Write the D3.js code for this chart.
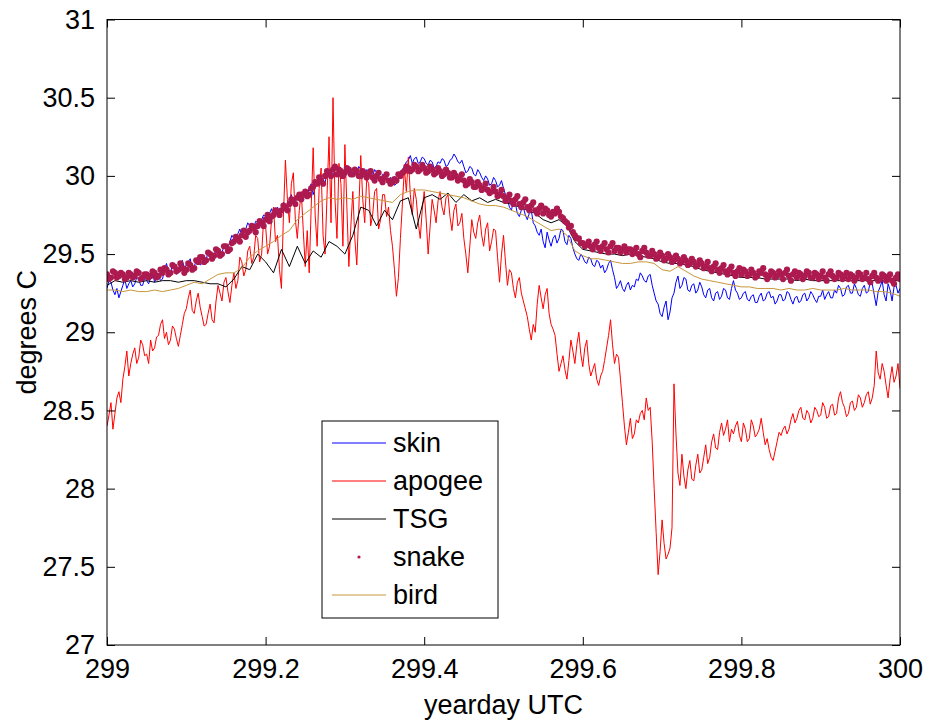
<!DOCTYPE html>
<html>
<head>
<meta charset="utf-8">
<script src="https://cdn.jsdelivr.net/npm/d3@7"></script>
<style>
  html, body { margin: 0; padding: 0; background: #fff; }
  svg text { font-family: "Liberation Sans", Arial, Helvetica, sans-serif; fill: #000; }
</style>
</head>
<body>
<svg id="chart" width="926" height="721"></svg>
<script>
// Sea surface temperature comparison, yearday 299–300 UTC.
// Each record is sampled on a regular yearday grid starting at 299.
const startDay = 299;

// skin radiometer temperature, every 0.0025 day
const skinStep = 0.0025;
const skin = [
  29.28,29.33,29.32,29.27,29.24,29.28,29.22,29.26,29.30,29.34,29.28,29.31,29.33,29.29,29.31,29.35,29.34,29.30,29.30,29.35,
  29.33,29.31,29.35,29.38,29.32,29.35,29.36,29.33,29.34,29.40,29.44,29.39,29.38,29.43,29.42,29.37,29.40,29.44,29.46,29.41,
  29.43,29.45,29.47,29.40,29.42,29.46,29.48,29.43,29.44,29.49,29.46,29.52,29.50,29.46,29.48,29.54,29.53,29.49,29.51,29.55,
  29.56,29.54,29.58,29.62,29.60,29.58,29.63,29.66,29.62,29.65,29.66,29.70,29.68,29.65,29.67,29.71,29.70,29.68,29.72,29.75,
  29.74,29.72,29.76,29.79,29.74,29.78,29.80,29.77,29.78,29.83,29.82,29.80,29.85,29.88,29.83,29.86,29.87,29.84,29.86,29.90,
  29.90,29.88,29.92,29.95,29.88,29.93,29.95,29.99,29.98,29.95,29.96,30.01,30.02,29.98,30.00,30.04,30.05,30.01,29.98,30.02,
  30.03,30.06,30.00,30.02,30.05,30.01,30.02,30.06,30.04,30.00,29.99,30.04,30.03,29.99,30.00,30.04,30.02,29.98,29.97,30.01,
  30.00,29.98,29.96,29.99,29.98,29.94,29.95,29.98,30.00,30.04,30.06,30.09,30.10,30.13,30.08,30.11,30.12,30.08,30.09,30.12,
  30.11,30.08,30.07,30.10,30.09,30.05,30.06,30.09,30.08,30.11,30.10,30.06,30.07,30.10,30.11,30.14,30.12,30.09,30.08,30.10,
  30.06,30.02,30.03,30.06,30.05,30.01,30.00,30.04,30.02,29.99,29.97,30.00,29.98,29.94,29.95,29.99,29.97,29.93,29.94,29.97,
  29.92,29.88,29.85,29.80,29.78,29.84,29.82,29.76,29.74,29.78,29.80,29.75,29.72,29.76,29.78,29.70,29.68,29.64,29.62,29.66,
  29.58,29.54,29.64,29.59,29.55,29.60,29.62,29.57,29.60,29.66,29.65,29.58,29.56,29.62,29.60,29.54,29.50,29.47,29.46,29.50,
  29.48,29.45,29.44,29.48,29.47,29.43,29.42,29.46,29.45,29.41,29.43,29.38,29.40,29.44,29.46,29.40,29.35,29.28,29.30,29.33,
  29.28,29.26,29.30,29.32,29.27,29.30,29.29,29.34,29.33,29.38,29.36,29.33,29.32,29.36,29.37,29.30,29.25,29.20,29.18,29.12,
  29.10,29.16,29.20,29.08,29.13,29.22,29.25,29.32,29.36,29.28,29.30,29.35,29.34,29.27,29.26,29.30,29.31,29.25,29.27,29.32,
  29.29,29.24,29.22,29.27,29.28,29.22,29.20,29.25,29.26,29.21,29.23,29.28,29.27,29.22,29.21,29.28,29.33,29.27,29.25,29.21,
  29.22,29.25,29.26,29.21,29.20,29.23,29.24,29.19,29.19,29.23,29.25,29.20,29.21,29.25,29.26,29.22,29.23,29.18,29.20,29.24,
  29.24,29.20,29.21,29.26,29.25,29.21,29.18,29.22,29.23,29.19,29.20,29.24,29.25,29.20,29.22,29.26,29.24,29.21,29.19,29.23,
  29.23,29.27,29.21,29.24,29.26,29.22,29.22,29.27,29.25,29.30,29.28,29.23,29.24,29.29,29.30,29.25,29.25,29.31,29.28,29.24,
  29.23,29.28,29.30,29.25,29.26,29.32,29.31,29.24,29.17,29.26,29.29,29.33,29.24,29.20,29.31,29.27,29.20,29.29,29.30,29.25,
  29.28
];

// apogee radiometer temperature, every 0.0025 day
const apogeeStep = 0.0025;
const apogee = [
  28.40,28.47,28.55,28.38,28.48,28.58,28.62,28.55,28.70,28.78,28.88,28.72,28.80,28.86,28.90,28.80,28.84,28.95,28.92,28.85,
  28.86,28.80,28.95,28.88,28.90,28.97,28.98,29.05,29.08,28.96,29.00,28.92,28.95,29.04,29.02,28.96,28.91,28.98,29.05,29.12,
  29.15,29.22,29.27,29.14,29.12,29.20,29.25,29.16,29.10,29.04,29.05,29.12,29.18,29.08,29.06,29.20,29.30,29.25,29.20,29.32,
  29.35,29.26,29.19,29.30,29.38,29.28,29.33,29.48,29.45,29.36,29.40,29.52,29.55,29.44,29.48,29.62,29.60,29.45,29.50,29.72,
  29.68,29.50,29.55,29.72,29.80,29.58,29.62,29.40,29.28,29.75,30.10,29.85,29.70,29.95,30.02,29.72,29.60,29.78,29.90,29.65,
  29.42,29.65,29.38,29.80,30.18,29.75,29.55,29.92,30.05,29.62,29.50,29.88,30.25,29.70,30.50,29.85,29.60,30.08,29.95,29.55,
  30.20,29.80,29.42,29.68,29.90,29.60,29.43,29.78,30.13,29.85,29.70,29.98,29.95,29.68,29.75,29.90,29.92,29.66,29.72,29.88,
  29.88,29.74,29.80,29.65,29.55,29.40,29.23,29.35,29.60,29.82,30.05,29.90,30.12,29.88,29.75,29.92,29.85,29.70,29.60,29.78,
  29.90,29.72,29.50,29.68,29.85,29.78,29.70,29.84,29.90,29.80,29.75,29.86,29.88,29.74,29.65,29.78,29.82,29.68,29.70,29.76,
  29.60,29.50,29.38,29.55,29.72,29.64,29.60,29.70,29.75,29.62,29.55,29.66,29.70,29.52,29.58,29.66,29.65,29.48,29.32,29.50,
  29.62,29.45,29.30,29.40,29.38,29.28,29.22,29.32,29.35,29.25,29.20,29.15,29.10,29.02,28.95,29.05,29.00,29.18,29.30,29.22,
  29.15,29.24,29.28,29.12,29.05,29.02,28.98,28.86,28.75,28.80,28.85,28.76,28.70,28.82,28.95,28.88,28.80,28.92,29.00,28.86,
  28.78,28.90,28.95,28.80,28.72,28.76,28.80,28.70,28.66,28.72,28.75,28.82,28.90,28.98,29.08,28.92,28.80,28.86,28.84,28.70,
  28.55,28.40,28.28,28.36,28.45,28.32,28.35,28.44,28.42,28.48,28.50,28.44,28.58,28.50,28.52,28.30,28.00,27.72,27.45,27.60,
  27.80,27.65,27.55,27.58,27.62,27.75,28.67,28.35,28.10,28.02,28.22,28.08,28.00,28.12,28.18,28.06,28.05,28.15,28.22,28.10,
  28.12,28.20,28.28,28.16,28.20,28.30,28.35,28.26,28.25,28.36,28.42,28.34,28.38,28.44,28.30,28.38,28.35,28.40,28.43,28.34,
  28.30,28.42,28.38,28.30,28.32,28.44,28.40,28.33,28.35,28.38,28.45,28.36,28.28,28.32,28.25,28.20,28.18,28.24,28.30,28.36,
  28.34,28.38,28.40,28.35,28.38,28.44,28.48,28.42,28.45,28.50,28.52,28.45,28.44,28.50,28.48,28.42,28.45,28.52,28.50,28.46,
  28.47,28.55,28.52,28.45,28.46,28.53,28.54,28.47,28.48,28.58,28.62,28.55,28.52,28.46,28.48,28.55,28.56,28.50,28.52,28.60,
  28.58,28.52,28.55,28.60,28.62,28.54,28.58,28.66,28.88,28.74,28.70,28.80,28.75,28.66,28.58,28.70,28.78,28.68,28.72,28.80,
  28.64
];

// ship thermosalinograph, every 0.01 day
const tsgStep = 0.01;
const tsg = [
  29.30,29.33,29.32,29.33,29.32,29.33,29.32,29.33,29.33,29.32,
  29.33,29.33,29.32,29.31,29.31,29.29,29.34,29.42,29.40,29.50,
  29.45,29.38,29.53,29.42,29.55,29.44,29.52,29.48,29.58,29.55,
  29.50,29.62,29.80,29.78,29.68,29.78,29.72,29.84,29.86,29.66,
  29.86,29.88,29.85,29.89,29.83,29.88,29.84,29.86,29.83,29.85,
  29.83,29.82,29.80,29.78,29.76,29.72,29.70,29.72,29.68,29.58,
  29.53,29.52,29.51,29.50,29.50,29.49,29.50,29.49,29.48,29.47,
  29.45,29.44,29.44,29.43,29.42,29.40,29.39,29.38,29.37,29.36,
  29.35,29.35,29.35,29.34,29.34,29.34,29.34,29.33,29.34,29.33,
  29.33,29.33,29.33,29.33,29.33,29.33,29.33,29.33,29.33,29.33,
  29.33
];

// towed "snake" thermistor, every 0.0025 day
const snakeStep = 0.0025;
const snake = [
  29.37,29.34,29.35,29.39,29.38,29.35,29.36,29.38,29.37,29.34,29.35,29.38,29.37,29.35,29.36,29.39,29.38,29.34,29.35,29.37,
  29.37,29.35,29.36,29.39,29.38,29.35,29.36,29.40,29.38,29.41,29.40,29.37,29.38,29.43,29.42,29.39,29.40,29.44,29.41,29.38,
  29.40,29.44,29.43,29.40,29.41,29.46,29.45,29.48,29.48,29.45,29.46,29.51,29.50,29.47,29.49,29.53,29.52,29.49,29.50,29.55,
  29.55,29.52,29.53,29.57,29.58,29.61,29.60,29.58,29.62,29.65,29.61,29.64,29.65,29.68,29.67,29.64,29.68,29.71,29.70,29.68,
  29.72,29.75,29.71,29.74,29.75,29.78,29.77,29.75,29.78,29.81,29.80,29.78,29.82,29.85,29.84,29.82,29.86,29.88,29.85,29.88,
  29.90,29.87,29.88,29.92,29.93,29.96,29.95,29.99,29.97,29.95,30.00,30.03,30.02,30.00,30.04,30.06,30.01,30.04,30.03,30.00,
  30.02,30.05,30.04,30.01,30.01,30.04,30.03,30.00,30.00,30.03,30.02,29.99,30.01,30.03,29.99,29.97,30.00,30.02,29.98,29.96,
  29.99,30.01,29.97,29.95,29.96,29.98,29.97,30.01,30.00,30.02,30.03,30.06,30.05,30.03,30.04,30.07,30.06,30.03,30.04,30.07,
  30.05,30.02,30.03,30.06,30.04,30.01,30.02,30.05,30.03,30.00,30.01,30.04,30.02,29.99,29.99,30.02,30.00,29.97,29.98,30.01,
  29.97,29.94,29.95,29.98,29.96,29.93,29.93,29.96,29.94,29.91,29.92,29.95,29.91,29.89,29.90,29.93,29.90,29.87,29.88,29.91,
  29.87,29.84,29.86,29.88,29.84,29.82,29.85,29.87,29.82,29.80,29.83,29.85,29.80,29.78,29.81,29.83,29.78,29.76,29.79,29.81,
  29.76,29.79,29.78,29.75,29.74,29.77,29.76,29.79,29.77,29.74,29.73,29.71,29.70,29.67,29.68,29.64,29.62,29.60,29.60,29.57,
  29.57,29.55,29.56,29.58,29.55,29.53,29.56,29.58,29.54,29.52,29.55,29.57,29.53,29.51,29.55,29.57,29.52,29.54,29.54,29.51,
  29.53,29.55,29.51,29.53,29.53,29.50,29.52,29.54,29.50,29.48,29.52,29.54,29.51,29.49,29.49,29.52,29.50,29.47,29.48,29.51,
  29.49,29.46,29.47,29.50,29.48,29.45,29.46,29.49,29.47,29.44,29.45,29.48,29.46,29.43,29.44,29.47,29.45,29.42,29.43,29.46,
  29.44,29.41,29.42,29.45,29.41,29.39,29.42,29.44,29.40,29.38,29.41,29.43,29.39,29.37,29.40,29.42,29.38,29.36,29.39,29.41,
  29.37,29.40,29.39,29.36,29.37,29.40,29.38,29.35,29.36,29.39,29.38,29.41,29.37,29.34,29.36,29.39,29.38,29.35,29.36,29.39,
  29.37,29.34,29.38,29.40,29.36,29.33,29.37,29.39,29.35,29.38,29.37,29.34,29.36,29.39,29.38,29.35,29.35,29.38,29.37,29.34,
  29.36,29.39,29.35,29.33,29.37,29.39,29.36,29.34,29.35,29.38,29.37,29.34,29.36,29.38,29.34,29.37,29.36,29.33,29.35,29.38,
  29.37,29.34,29.35,29.38,29.34,29.32,29.36,29.38,29.35,29.33,29.34,29.37,29.36,29.33,29.35,29.37,29.33,29.31,29.35,29.37,
  29.34
];

// bow-mounted "bird" thermistor, every 0.01 day
const birdStep = 0.01;
const bird = [
  29.27,29.27,29.26,29.27,29.26,29.26,29.27,29.26,29.27,29.28,
  29.30,29.32,29.31,29.34,29.37,29.38,29.38,29.41,29.48,29.52,
  29.55,29.58,29.62,29.65,29.72,29.76,29.80,29.84,29.86,29.85,
  29.86,29.85,29.87,29.86,29.85,29.84,29.83,29.88,29.90,29.91,
  29.91,29.90,29.89,29.88,29.87,29.86,29.84,29.82,29.81,29.81,
  29.80,29.78,29.76,29.74,29.71,29.68,29.65,29.66,29.62,29.52,
  29.49,29.47,29.47,29.46,29.45,29.44,29.44,29.45,29.45,29.44,
  29.40,29.39,29.42,29.39,29.36,29.34,29.33,29.32,29.31,29.30,
  29.29,29.29,29.28,29.28,29.28,29.27,29.28,29.27,29.27,29.28,
  29.27,29.27,29.27,29.28,29.27,29.27,29.27,29.26,29.26,29.25,
  29.23
];

const xTicks = [299, 299.2, 299.4, 299.6, 299.8, 300];
const yTicks = [27, 27.5, 28, 28.5, 29, 29.5, 30, 30.5, 31];
const seriesNames = ["skin", "apogee", "TSG", "snake", "bird"];

const colors = {
  skin: "#0000ff",
  apogee: "#ff0000",
  TSG: "#000000",
  snake: "#ad1a4f",
  bird: "#c8963c"
};

const fontSize = 27;
const svg = d3.select("#chart");
const plot = { left: 107, right: 900, top: 19.5, bottom: 645 };

const x = d3.scaleLinear().domain([299, 300]).range([plot.left, plot.right]);
const y = d3.scaleLinear().domain([27, 31]).range([plot.bottom, plot.top]);

function toPoints(values, step) {
  return values.map((v, i) => ({ t: startDay + i * step, v }));
}

const line = d3.line().x(d => x(d.t)).y(d => y(d.v));

svg.append("defs").append("clipPath").attr("id", "plotClip")
  .append("rect")
  .attr("x", plot.left).attr("y", plot.top)
  .attr("width", plot.right - plot.left).attr("height", plot.bottom - plot.top);

const g = svg.append("g").attr("clip-path", "url(#plotClip)");

function drawLine(values, step, color) {
  g.append("path")
    .datum(toPoints(values, step))
    .attr("fill", "none")
    .attr("stroke", color)
    .attr("stroke-width", 1)
    .attr("stroke-linejoin", "round")
    .attr("d", line);
}

drawLine(skin, skinStep, colors.skin);
drawLine(apogee, apogeeStep, colors.apogee);
drawLine(tsg, tsgStep, colors.TSG);

g.append("g").selectAll("circle")
  .data(toPoints(snake, snakeStep))
  .join("circle")
  .attr("cx", d => x(d.t))
  .attr("cy", d => y(d.v))
  .attr("r", 3.1)
  .attr("fill", colors.snake);

drawLine(bird, birdStep, colors.bird);

// axes box with inward ticks on all four sides
const tickLen = 8;
const axes = svg.append("g");

axes.append("rect")
  .attr("x", plot.left).attr("y", plot.top)
  .attr("width", plot.right - plot.left).attr("height", plot.bottom - plot.top)
  .attr("fill", "none").attr("stroke", "#000").attr("stroke-width", 1);

const bottomAxis = d3.axisBottom(x).tickValues(xTicks).tickSize(-tickLen).tickPadding(14)
  .tickFormat(d3.format("~g"));
const leftAxis = d3.axisLeft(y).tickValues(yTicks).tickSize(-tickLen).tickPadding(12)
  .tickFormat(d3.format("~g"));
const topAxis = d3.axisTop(x).tickValues(xTicks).tickSize(-tickLen).tickFormat("");
const rightAxis = d3.axisRight(y).tickValues(yTicks).tickSize(-tickLen).tickFormat("");

function styleAxis(sel) {
  sel.select(".domain").remove();
  sel.selectAll(".tick line").attr("stroke", "#000");
  sel.selectAll(".tick text").attr("font-size", fontSize).attr("font-family", null);
}

axes.append("g").attr("transform", `translate(0,${plot.bottom})`).call(bottomAxis).call(styleAxis);
axes.append("g").attr("transform", `translate(${plot.left},0)`).call(leftAxis).call(styleAxis);
axes.append("g").attr("transform", `translate(0,${plot.top})`).call(topAxis).call(styleAxis);
axes.append("g").attr("transform", `translate(${plot.right},0)`).call(rightAxis).call(styleAxis);

// axis titles
svg.append("text")
  .attr("x", (plot.left + plot.right) / 2)
  .attr("y", 714)
  .attr("text-anchor", "middle")
  .attr("font-size", fontSize)
  .text("yearday UTC");

svg.append("text")
  .attr("transform", `translate(36,${(plot.top + plot.bottom) / 2}) rotate(-90)`)
  .attr("text-anchor", "middle")
  .attr("font-size", fontSize)
  .text("degrees C");

// legend
const legend = svg.append("g");
legend.append("rect")
  .attr("x", 322).attr("y", 421).attr("width", 176).attr("height", 197)
  .attr("fill", "#fff").attr("stroke", "#000").attr("stroke-width", 1);

seriesNames.forEach((name, i) => {
  const cy = 443 + i * 38;
  if (name === "snake") {
    legend.append("circle").attr("cx", 359).attr("cy", cy).attr("r", 1.6).attr("fill", colors.snake);
  } else {
    legend.append("line")
      .attr("x1", 332).attr("x2", 386).attr("y1", cy).attr("y2", cy)
      .attr("stroke", colors[name]).attr("stroke-width", 1);
  }
  legend.append("text")
    .attr("x", 393).attr("y", cy + 9)
    .attr("font-size", fontSize)
    .text(name);
});
</script>
</body>
</html>
